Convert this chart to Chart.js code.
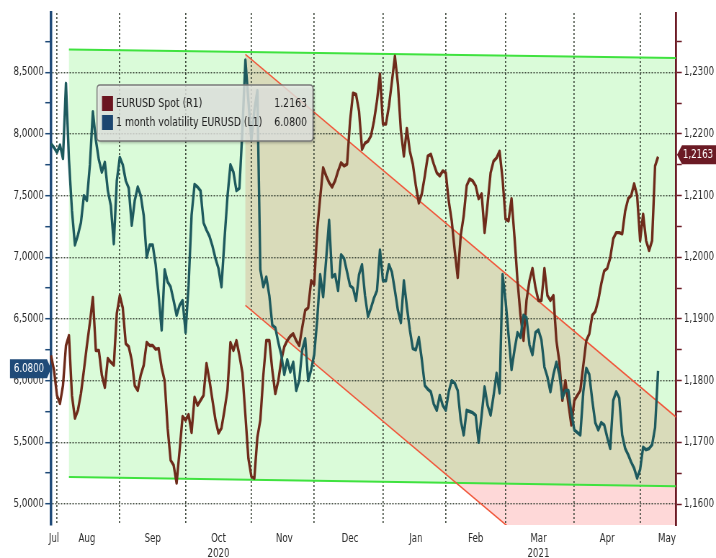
<!DOCTYPE html>
<html>
<head>
<meta charset="utf-8">
<script src="https://cdn.jsdelivr.net/npm/chart.js@4.4.1/dist/chart.umd.min.js"></script>
<style>
  html, body { margin: 0; padding: 0; background: #fff; overflow: hidden; }
  canvas { display: block; }
</style>
</head>
<body>
<!-- drawn wider than shown and squeezed by css, like the narrow terminal screenshot -->
<canvas id="chart" width="994" height="558" style="width:716px;height:558px"></canvas>
<script>
// x axis: one slot per weekday, starting here
var firstDay = "2020-07-30";
var dayCount = 210;

// month names under the axis and the day each one sits on
var monthLabelDays = ["2020-07-31", "2020-08-17", "2020-09-16", "2020-10-16", "2020-11-17", "2020-12-17",
                      "2021-01-18", "2021-02-15", "2021-03-16", "2021-04-16", "2021-05-14"];
var monthLabelText = [["Jul"], ["Aug"], ["Sep"], ["Oct", "2020"], ["Nov"], ["Dec"],
                      ["Jan"], ["Feb"], ["Mar", "2021"], ["Apr"], ["May"]];

// left axis (L1): 1 month volatility EURUSD
var volTicks = [5.0, 5.5, 6.0, 6.5, 7.0, 7.5, 8.0, 8.5];
var vol = [
    7.92, 7.89, 7.85, 7.91, 7.80, 8.41, 7.79, 7.38, 7.10, 7.18, 7.28, 7.50,
    7.46, 7.75, 8.18, 7.95, 7.79, 7.69, 7.77, 7.54, 7.42, 7.11, 7.62, 7.81,
    7.75, 7.62, 7.56, 7.26, 7.46, 7.57, 7.50, 7.34, 7.00, 7.10, 7.10, 6.94,
    6.69, 6.41, 6.90, 6.80, 6.76, 6.65, 6.53, 6.61, 6.65, 6.39, 6.77, 7.34,
    7.59, 7.57, 7.54, 7.28, 7.22, 7.17, 7.09, 6.99, 6.91, 6.76, 7.14, 7.49,
    7.75, 7.69, 7.54, 7.56, 8.03, 8.60, 8.27, 7.95, 8.19, 8.35, 6.90, 6.76,
    6.84, 6.69, 6.45, 6.43, 6.31, 6.21, 6.05, 6.17, 6.07, 6.15, 5.92, 6.00,
    6.25, 6.34, 6.00, 6.09, 6.21, 6.49, 6.86, 6.68, 6.98, 7.30, 6.84, 6.86,
    6.73, 7.02, 6.99, 6.88, 6.77, 6.75, 6.65, 6.86, 6.94, 6.69, 6.52, 6.59,
    6.67, 6.73, 7.06, 6.81, 6.81, 6.94, 6.88, 6.73, 6.57, 6.47, 6.81, 6.60,
    6.41, 6.26, 6.25, 6.35, 6.17, 5.96, 5.93, 5.91, 5.81, 5.76, 5.88, 5.80,
    5.76, 5.91, 6.00, 5.98, 5.92, 5.68, 5.56, 5.76, 5.75, 5.74, 5.72, 5.50,
    5.72, 5.95, 5.80, 5.72, 5.88, 6.06, 5.90, 6.86, 6.65, 6.37, 6.09, 6.25,
    6.39, 6.35, 6.53, 6.51, 6.29, 6.21, 6.39, 6.41, 6.33, 6.11, 6.03, 5.91,
    6.05, 6.15, 6.05, 5.86, 5.92, 5.92, 5.74, 5.60, 5.58, 5.56, 5.91, 6.10,
    6.05, 5.84, 5.66, 5.60, 5.66, 5.64, 5.54, 5.45, 5.84, 5.91, 5.86, 5.56,
    5.45, 5.40, 5.34, 5.29, 5.21, 5.28, 5.46, 5.44, 5.45, 5.48, 5.62, 6.08
];

// right axis (R1): EURUSD spot
var spotTicks = [1.16, 1.17, 1.18, 1.19, 1.20, 1.21, 1.22, 1.23];
var spot = [
    1.1841, 1.1817, 1.1776, 1.1763, 1.1792, 1.1857, 1.1873, 1.1776, 1.1739, 1.1752, 1.1779, 1.1817,
    1.1857, 1.1894, 1.1935, 1.1849, 1.1849, 1.1809, 1.1789, 1.1836, 1.1830, 1.1825, 1.1909, 1.1938,
    1.1918, 1.1860, 1.1855, 1.1833, 1.1792, 1.1784, 1.1809, 1.1825, 1.1862, 1.1857, 1.1857, 1.1851,
    1.1852, 1.1821, 1.1800, 1.1723, 1.1671, 1.1663, 1.1634, 1.1687, 1.1742, 1.1736, 1.1745, 1.1716,
    1.1773, 1.1760, 1.1768, 1.1776, 1.1828, 1.1800, 1.1768, 1.1736, 1.1715, 1.1723, 1.1752, 1.1784,
    1.1862, 1.1849, 1.1865, 1.1841, 1.1813, 1.1744, 1.1674, 1.1645, 1.1642, 1.1708, 1.1736, 1.1809,
    1.1865, 1.1865, 1.1817, 1.1779, 1.1800, 1.1833, 1.1855, 1.1865, 1.1872, 1.1876, 1.1865, 1.1857,
    1.1886, 1.1914, 1.1918, 1.1962, 1.1956, 1.2043, 1.2096, 1.2145, 1.2132, 1.2121, 1.2114, 1.2124,
    1.2140, 1.2153, 1.2148, 1.2151, 1.2221, 1.2266, 1.2264, 1.2237, 1.2175, 1.2185, 1.2188, 1.2197,
    1.2221, 1.2253, 1.2297, 1.2216, 1.2216, 1.2245, 1.2285, 1.2326, 1.2281, 1.2205, 1.2164, 1.2209,
    1.2172, 1.2151, 1.2116, 1.2088, 1.2103, 1.2132, 1.2164, 1.2167, 1.2151, 1.2137, 1.2132, 1.2140,
    1.2137, 1.2091, 1.2059, 1.2011, 1.1967, 1.2035, 1.2067, 1.2116, 1.2127, 1.2124, 1.2116, 1.2095,
    1.2103, 1.2040, 1.2087, 1.2137, 1.2156, 1.2161, 1.2172, 1.2127, 1.2062, 1.2059, 1.2095, 1.2032,
    1.1962, 1.1906, 1.1865, 1.1930, 1.1962, 1.1982, 1.1951, 1.1930, 1.1930, 1.1982, 1.1938, 1.1930,
    1.1938, 1.1865, 1.1830, 1.1768, 1.1800, 1.1763, 1.1728, 1.1768, 1.1776, 1.1784, 1.1825, 1.1865,
    1.1876, 1.1906, 1.1912, 1.1930, 1.1957, 1.1978, 1.1982, 1.1999, 1.2030, 1.2040, 1.2040, 1.2038,
    1.2075, 1.2095, 1.2100, 1.2119, 1.2100, 1.2027, 1.2070, 1.2027, 1.2011, 1.2027, 1.2148, 1.2163
];

// green trend band and falling red channel: [first slot, last slot], spot level at each end
var bandSlots = [6, 209];
var bandTop = [1.2337, 1.2323];
var bandBottom = [1.1644, 1.1629];
var channelSlots = [65, 209];
var channelTop = [1.2329, 1.1741];
var channelBottom = [1.1922, 1.1334];

// ---------------------------------------------------------------

var SX = 994 / 716;          // screen px -> canvas px (horizontal only)
function sx(px) { return px * SX; }

var days = [];
var d = new Date(firstDay + "T00:00:00Z");
while (days.length < dayCount) {
    var wd = d.getUTCDay();
    if (wd !== 0 && wd !== 6) days.push(d.toISOString().slice(0, 10));
    d.setUTCDate(d.getUTCDate() + 1);
}

// a vertical grid line on the first trading day of each month
var monthStarts = {};
for (var i = 1; i < days.length; i++) {
    if (days[i].slice(5, 7) !== days[i - 1].slice(5, 7)) monthStarts[i] = true;
}
var tickText = {};
monthLabelDays.forEach(function (day, k) { tickText[days.indexOf(day)] = monthLabelText[k]; });

function withHalfSteps(majors, half, scale) {
    var out = [];
    var lo = majors[0] - half;
    if (lo >= scale.min) out.push({ value: lo });
    majors.forEach(function (m, k) {
        out.push({ value: m, major: true });
        if (k < majors.length - 1 || m + half <= scale.max) out.push({ value: +(m + half).toFixed(6) });
    });
    return out;
}

function commaFixed(v) { return v.toFixed(4).replace(".", ","); }

var gridColor = "rgba(52, 62, 50, 0.9)";
var volAxisColor = "#1f4a78";
var spotAxisColor = "#6b1a24";
var tickFont = { family: "DejaVu Sans", size: 12 };

function poly(ctx, pts) {
    ctx.beginPath();
    ctx.moveTo(pts[0][0], pts[0][1]);
    for (var k = 1; k < pts.length; k++) ctx.lineTo(pts[k][0], pts[k][1]);
    ctx.closePath();
}

var zones = {
    id: "zones",
    beforeDraw: function (chart) {
        var ctx = chart.ctx, a = chart.chartArea;
        var xs = chart.scales.x, ys = chart.scales.y1;
        function pt(i, v) { return [xs.getPixelForValue(i), ys.getPixelForValue(v)]; }
        var band = [pt(bandSlots[0], bandTop[0]), pt(bandSlots[1], bandTop[1]),
                    pt(bandSlots[1], bandBottom[1]), pt(bandSlots[0], bandBottom[0])];
        var chan = [pt(channelSlots[0], channelTop[0]), pt(channelSlots[1], channelTop[1]),
                    pt(channelSlots[1], channelBottom[1]), pt(channelSlots[0], channelBottom[0])];
        var below = [band[3], band[2], [band[2][0], a.bottom], [band[3][0], a.bottom]];

        ctx.save();
        ctx.beginPath();
        ctx.rect(a.left, a.top, a.width, a.height);
        ctx.clip();

        poly(ctx, band);
        ctx.fillStyle = "#dafbd9";
        ctx.fill();

        ctx.save();
        poly(ctx, band);
        ctx.clip();
        poly(ctx, chan);
        ctx.fillStyle = "#d9dbba";
        ctx.fill();
        ctx.restore();

        ctx.save();
        poly(ctx, below);
        ctx.clip();
        poly(ctx, chan);
        ctx.fillStyle = "#fed8d8";
        ctx.fill();
        ctx.restore();

        ctx.restore();
    },
    beforeDatasetsDraw: function (chart) {
        var ctx = chart.ctx, a = chart.chartArea;
        var xs = chart.scales.x, ys = chart.scales.y1;
        function seg(i0, v0, i1, v1, color, w) {
            ctx.beginPath();
            ctx.moveTo(xs.getPixelForValue(i0), ys.getPixelForValue(v0));
            ctx.lineTo(xs.getPixelForValue(i1), ys.getPixelForValue(v1));
            ctx.strokeStyle = color;
            ctx.lineWidth = w;
            ctx.stroke();
        }
        ctx.save();
        ctx.beginPath();
        ctx.rect(a.left, a.top, a.width, a.height);
        ctx.clip();
        seg(bandSlots[0], bandTop[0], bandSlots[1], bandTop[1], "#3fe23f", 2);
        seg(bandSlots[0], bandBottom[0], bandSlots[1], bandBottom[1], "#3fe23f", 2);
        seg(channelSlots[0], channelTop[0], channelSlots[1], channelTop[1], "#f0583c", 1.6);
        seg(channelSlots[0], channelBottom[0], channelSlots[1], channelBottom[1], "#f0583c", 1.6);
        ctx.restore();
    },
    afterDraw: function (chart) {
        var ctx = chart.ctx;
        var spotSet = chart.data.datasets[0], volSet = chart.data.datasets[1];
        var lastSpot = spot[spot.length - 1], lastVol = vol[vol.length - 1];

        // legend box
        ctx.save();
        var x0 = sx(97), x1 = sx(313), y0 = 85, y1 = 141, r = 4;
        ctx.beginPath();
        ctx.moveTo(x0 + r, y0);
        ctx.lineTo(x1 - r, y0);
        ctx.quadraticCurveTo(x1, y0, x1, y0 + r);
        ctx.lineTo(x1, y1 - r);
        ctx.quadraticCurveTo(x1, y1, x1 - r, y1);
        ctx.lineTo(x0 + r, y1);
        ctx.quadraticCurveTo(x0, y1, x0, y1 - r);
        ctx.lineTo(x0, y0 + r);
        ctx.quadraticCurveTo(x0, y0, x0 + r, y0);
        ctx.closePath();
        ctx.shadowColor = "rgba(0,0,0,0.35)";
        ctx.shadowOffsetX = 2;
        ctx.shadowOffsetY = 2;
        ctx.shadowBlur = 3;
        ctx.fillStyle = "rgba(236,238,234,0.78)";
        ctx.fill();
        ctx.shadowColor = "transparent";
        ctx.strokeStyle = "#7a7a7a";
        ctx.lineWidth = 1.5;
        ctx.stroke();

        ctx.fillStyle = "#6b1520";
        ctx.fillRect(sx(102), 96, sx(113) - sx(102), 15);
        ctx.fillStyle = "#1c4670";
        ctx.fillRect(sx(102), 115, sx(113) - sx(102), 15);

        ctx.font = "13px 'DejaVu Sans'";
        ctx.fillStyle = "#222";
        ctx.textBaseline = "middle";
        ctx.textAlign = "left";
        ctx.fillText(spotSet.label, sx(116), 104);
        ctx.fillText(volSet.label, sx(116), 123);
        ctx.textAlign = "right";
        ctx.fillText(lastSpot.toFixed(4), sx(307), 104);
        ctx.fillText(lastVol.toFixed(4), sx(307), 123);

        // last value tags on the axes
        var yv = chart.scales.y.getPixelForValue(lastVol) - 2;
        poly(ctx, [[sx(10), yv - 9.5], [sx(47), yv - 9.5], [sx(51), yv], [sx(47), yv + 9.5], [sx(10), yv + 9.5]]);
        ctx.fillStyle = volAxisColor;
        ctx.fill();
        var ysp = chart.scales.y1.getPixelForValue(lastSpot) - 2;
        poly(ctx, [[sx(677), ysp], [sx(682), ysp - 9.5], [sx(717), ysp - 9.5], [sx(717), ysp + 9.5], [sx(682), ysp + 9.5]]);
        ctx.fillStyle = spotAxisColor;
        ctx.fill();

        ctx.font = "12px 'DejaVu Sans'";
        ctx.fillStyle = "#fff";
        ctx.textAlign = "center";
        ctx.fillText(lastVol.toFixed(4), sx(29), yv + 0.5);
        ctx.fillText(commaFixed(lastSpot), sx(698), ysp + 0.5);
        ctx.restore();
    }
};

var chart = new Chart(document.getElementById("chart"), {
    type: "line",
    data: {
        labels: days,
        datasets: [
            {
                label: "EURUSD Spot (R1)",
                data: spot,
                yAxisID: "y1",
                borderColor: "#6e2b1b",
                borderWidth: 3.4,
                pointRadius: 0,
                tension: 0,
                borderJoinStyle: "round",
                order: 1
            },
            {
                label: "1 month volatility EURUSD (L1)",
                data: vol,
                yAxisID: "y",
                borderColor: "#1e5a5e",
                borderWidth: 3.4,
                pointRadius: 0,
                tension: 0,
                borderJoinStyle: "round",
                order: 0
            }
        ]
    },
    options: {
        responsive: false,
        animation: false,
        devicePixelRatio: 1,
        layout: { padding: { top: 13, left: 0, right: 0, bottom: 0 } },
        plugins: { legend: { display: false }, tooltip: { enabled: false } },
        scales: {
            x: {
                grid: {
                    drawTicks: false,
                    lineWidth: 1.7,
                    color: function (c) { return c.tick && monthStarts[c.tick.value] ? gridColor : "transparent"; }
                },
                border: { display: false, dash: [2, 2] },
                ticks: {
                    autoSkip: false,
                    maxRotation: 0,
                    minRotation: 0,
                    padding: 7,
                    color: "#2b2b2b",
                    font: tickFont,
                    callback: function (v, idx) { return tickText[idx] || ""; }
                },
                afterFit: function (s) { s.height = 33; }
            },
            y: {
                position: "left",
                min: 4.83,
                max: 8.98,
                afterBuildTicks: function (s) { s.ticks = withHalfSteps(volTicks, 0.25, s); },
                grid: {
                    lineWidth: 1.4,
                    tickLength: 8,
                    tickColor: volAxisColor,
                    tickWidth: 1.5,
                    color: function (c) { return c.tick && c.tick.major ? gridColor : "transparent"; }
                },
                border: { color: volAxisColor, width: 3.5, dash: [2, 2] },
                ticks: {
                    autoSkip: false,
                    padding: 2,
                    color: "#2b2b2b",
                    font: tickFont,
                    callback: function (v, idx, ticks) { return ticks[idx].major ? commaFixed(v) : ""; }
                },
                afterFit: function (s) { s.width = sx(51); }
            },
            y1: {
                position: "right",
                min: 1.1566,
                max: 1.2396,
                afterBuildTicks: function (s) { s.ticks = withHalfSteps(spotTicks, 0.005, s); },
                grid: {
                    drawOnChartArea: false,
                    tickLength: 8,
                    tickColor: spotAxisColor,
                    tickWidth: 1.5
                },
                border: { color: spotAxisColor, width: 2.8 },
                ticks: {
                    autoSkip: false,
                    padding: 3,
                    color: "#2b2b2b",
                    font: tickFont,
                    callback: function (v, idx, ticks) { return ticks[idx].major ? commaFixed(v) : ""; }
                },
                afterFit: function (s) { s.width = 994 - sx(676); }
            }
        }
    },
    plugins: [zones]
});
</script>
</body>
</html>
